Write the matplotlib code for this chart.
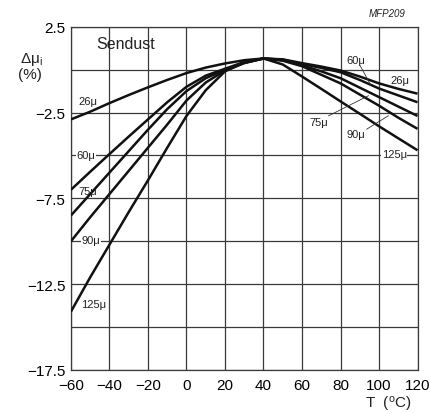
import numpy as np
import matplotlib
matplotlib.use('Agg')
import matplotlib.pyplot as plt

# Temperature points (deg C)
temp = [-60, -50, -40, -30, -20, -10, 0, 10, 20, 30, 40, 50, 60, 70, 80, 90, 100, 110, 120]

# Change of initial permeability (%) per grade
mu_26 = [-2.9, -2.45, -1.95, -1.48, -1.03, -0.6, -0.2, 0.12, 0.36, 0.55, 0.65, 0.6, 0.38, 0.18, -0.05, -0.4, -0.8, -1.12, -1.4]
mu_60 = [-7.0, -5.95, -4.92, -3.9, -2.9, -1.9, -1.0, -0.35, 0.05, 0.45, 0.65, 0.58, 0.33, 0.1, -0.15, -0.6, -1.1, -1.5, -1.9]
mu_75 = [-8.5, -7.25, -6.0, -4.75, -3.5, -2.3, -1.25, -0.5, 0.0, 0.4, 0.65, 0.55, 0.25, -0.1, -0.5, -1.05, -1.6, -2.15, -2.7]
mu_90 = [-10.0, -8.6, -7.25, -5.9, -4.55, -3.2, -1.8, -0.75, -0.05, 0.38, 0.65, 0.52, 0.2, -0.3, -0.8, -1.45, -2.1, -2.8, -3.45]
mu_125 = [-14.1, -12.1, -10.2, -8.3, -6.45, -4.55, -2.7, -1.2, -0.1, 0.4, 0.65, 0.3, -0.4, -1.12, -1.85, -2.57, -3.3, -4.0, -4.7]

x_ticks = [-60, -40, -20, 0, 20, 40, 60, 80, 100, 120]
y_ticks = [2.5, -2.5, -7.5, -12.5, -17.5]
y_minor = [0, -5, -10, -15]

plt.rcParams['font.family'] = ['Liberation Sans', 'DejaVu Sans']
plt.rcParams['mathtext.default'] = 'regular'

fig = plt.figure(figsize=(4.3, 4.14), dpi=100)
ax = fig.add_axes([0.165, 0.104, 0.806, 0.829])

for vals in [mu_26, mu_60, mu_75, mu_90, mu_125]:
    ax.plot(temp, vals, color='#111111', linewidth=1.8, solid_capstyle='butt', zorder=3)

ax.set_xlim(-60, 120)
ax.set_ylim(-17.5, 2.5)
ax.set_xticks(x_ticks)
ax.set_yticks(y_ticks)
ax.set_yticks(y_minor, minor=True)
ax.grid(True, which='both', color='#3a3a3a', linewidth=0.9, zorder=1)
ax.tick_params(which='both', length=0, labelsize=11)
ax.tick_params(axis='x', pad=6)
ax.tick_params(axis='y', pad=4)
for s in ax.spines.values():
    s.set_color('#3a3a3a')
    s.set_linewidth(0.9)

# grade labels
lab = dict(fontsize=8, color='#222222', ha='center', va='center', zorder=4)
box = dict(facecolor='white', edgecolor='none', pad=0.3)
ax.text(-51, -1.8, '26μ', **lab)
ax.text(-52.3, -5.0, '60μ', bbox=box, **lab)
ax.text(-51.5, -7.05, '75μ', **lab)
ax.text(-49.7, -9.95, '90μ', bbox=box, **lab)
ax.text(-48, -13.65, '125μ', **lab)
ax.text(88, 0.58, '60μ', **lab)
ax.text(111, -0.6, '26μ', **lab)
ax.text(68.6, -3.05, '75μ', **lab)
ax.text(88, -3.75, '90μ', **lab)
ax.text(108, -4.9, '125μ', bbox=box, **lab)

# leader lines for the right-hand labels
ax.plot([90.2, 95.7], [0.23, -0.9], color='#333333', linewidth=0.6, zorder=4)
ax.plot([73.8, 94.5], [-2.69, -1.52], color='#333333', linewidth=0.6, zorder=4)
ax.plot([93.6, 104.8], [-3.47, -2.69], color='#333333', linewidth=0.6, zorder=4)

ax.text(-31.6, 1.5, 'Sendust', fontsize=11.5, ha='center', va='center', color='#222222')

fig.text(0.072, 0.857, 'Δμ$_i$', fontsize=11, ha='center', va='center', color='#222222')
fig.text(0.070, 0.819, '(%)', fontsize=11, ha='center', va='center', color='#222222')
fig.text(0.942, 0.967, 'MFP209', fontsize=7, style='italic', ha='right', va='center', color='#222222')
fig.text(0.958, 0.022, 'T  ($^o$C)', fontsize=11, ha='right', va='center', color='#222222')

plt.savefig('out.png', dpi=100)
